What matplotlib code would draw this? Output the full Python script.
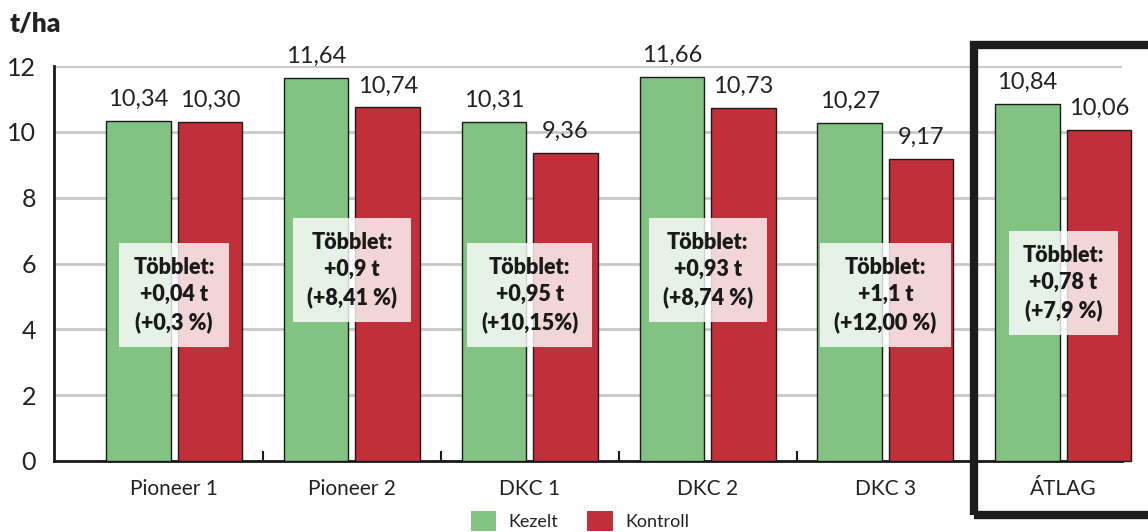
import numpy as np
import matplotlib
matplotlib.use("Agg")
import matplotlib.pyplot as plt
from matplotlib.patches import Patch, Rectangle

plt.rcParams['font.family'] = ['Lato', 'DejaVu Sans']

# Adatok
categories = ["Pioneer 1", "Pioneer 2", "DKC 1", "DKC 2", "DKC 3", "ÁTLAG"]
kezelt = [10.34, 11.64, 10.31, 11.66, 10.27, 10.84]
kontroll = [10.30, 10.74, 9.36, 10.73, 9.17, 10.06]
kezelt_labels = ["10,34", "11,64", "10,31", "11,66", "10,27", "10,84"]
kontroll_labels = ["10,30", "10,74", "9,36", "10,73", "9,17", "10,06"]
tobblet_t = ["+0,04 t", "+0,9 t", "+0,95 t", "+0,93 t", "+1,1 t", "+0,78 t"]
tobblet_pct = ["(+0,3 %)", "(+8,41 %)", "(+10,15%)", "(+8,74 %)", "(+12,00 %)", "(+7,9 %)"]
tobblet_y = [5.05, 5.8, 5.05, 5.8, 5.05, 5.4]

GREEN = "#82c282"
RED = "#c1303a"

fig = plt.figure(figsize=(11.48, 5.32), dpi=100)
ax = fig.add_axes([54 / 1148, 71 / 532, 1068 / 1148, 395 / 532])

x = np.arange(len(categories))
w = 0.363
off = 0.201
ax.bar(x - off, kezelt, w, color=GREEN, edgecolor="#1a1a1a", linewidth=1.0, zorder=3, clip_on=False)
ax.bar(x + off, kontroll, w, color=RED, edgecolor="#1a1a1a", linewidth=1.0, zorder=3, clip_on=False)

# Értékcímkék a hasábok fölött + többlet dobozok
for i in range(len(categories)):
    ax.annotate(kezelt_labels[i], (x[i] - off, kezelt[i]), xytext=(0, 8), textcoords="offset points",
                ha="center", va="bottom", fontsize=17, color="#222222", zorder=5)
    ax.annotate(kontroll_labels[i], (x[i] + off, kontroll[i]), xytext=(0, 8), textcoords="offset points",
                ha="center", va="bottom", fontsize=17, color="#222222", zorder=5)
    ax.text(x[i], tobblet_y[i], "Többlet:\n" + tobblet_t[i] + "\n" + tobblet_pct[i],
            ha="center", va="center", fontsize=15.5, fontweight="heavy", color="#1a1a1a",
            linespacing=1.35, zorder=6,
            bbox=dict(boxstyle="square,pad=0.65", facecolor="white", edgecolor="none", alpha=0.8))

ax.set_xlim(-0.675, 5.33)
ax.set_ylim(0, 12)
ax.set_yticks(np.arange(0, 13, 2))
ax.yaxis.grid(True, color="#c8c8c8", linewidth=2.0, zorder=0)
ax.set_axisbelow(True)

ax.set_xticks(x)
ax.set_xticklabels(categories, fontsize=15, color="#222222")
ax.set_xticks([0.5, 1.5, 2.5, 3.5, 4.5, 5.15], minor=True)
ax.tick_params(axis="x", which="major", length=0, pad=13)
ax.tick_params(axis="x", which="minor", direction="in", length=7, width=1.5, color="#1a1a1a")
ax.tick_params(axis="y", length=0, pad=13, labelsize=18, labelcolor="#222222")

for s in ["top", "right"]:
    ax.spines[s].set_visible(False)
ax.spines["left"].set_linewidth(2)
ax.spines["bottom"].set_linewidth(2)
ax.spines["left"].set_color("#1a1a1a")
ax.spines["bottom"].set_color("#1a1a1a")

fig.text(10 / 1148, 1 - 24 / 532, "t/ha", fontsize=19, fontweight="heavy", color="#222222",
         ha="left", va="center")

# Kiemelő keret az átlag körül
fig.patches.append(Rectangle((974 / 1148, 17 / 532), 0.3, 470 / 532, transform=fig.transFigure,
                             fill=False, edgecolor="#1c1c1c", linewidth=6, zorder=10))

handles = [Patch(facecolor=GREEN, label="Kezelt"), Patch(facecolor=RED, label="Kontroll")]
fig.legend(handles=handles, loc="center", bbox_to_anchor=(580 / 1148, 1 - 521 / 532), ncol=2,
           frameon=False, fontsize=13, handlelength=1.4, handleheight=1.3, columnspacing=1.6,
           handletextpad=0.7, labelcolor="#222222", borderpad=0)

fig.savefig("out.png", dpi=100)
